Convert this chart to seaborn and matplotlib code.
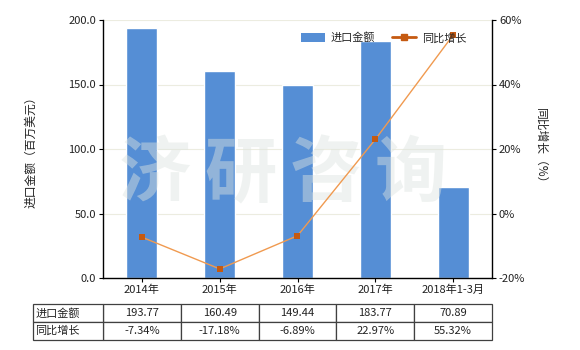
import numpy as np
import pandas as pd
import matplotlib
matplotlib.use("Agg")
import matplotlib.pyplot as plt
import seaborn as sns
from matplotlib.lines import Line2D
from matplotlib.patches import Patch

categories = ["2014年", "2015年", "2016年", "2017年", "2018年1-3月"]
import_values = [193.77, 160.49, 149.44, 183.77, 70.89]
growth_values = [-7.34, -17.18, -6.89, 22.97, 55.32]
row_labels = ["进口金额", "同比增长"]
left_ticks = [0, 50, 100, 150, 200]
right_ticks = [-20, 0, 20, 40, 60]
watermark = "济研咨询"

sns.set_theme(style="white")
plt.rcParams['font.family'] = ['Noto Sans CJK SC', 'DejaVu Sans']
plt.rcParams['axes.unicode_minus'] = False

BAR = "#558ED5"
LINE = "#F09A50"
MARK = "#C55A11"
TXT = "#222222"

fig = plt.figure(figsize=(5.8, 3.5), dpi=100)
ax = fig.add_axes([103/580, 1-278/350, 389/580, 258/350])

df = pd.DataFrame({"cat": categories, "val": import_values})
sns.barplot(data=df, x="cat", y="val", ax=ax, color=BAR, width=0.4,
            saturation=1, order=categories, zorder=2)
ax.set_ylim(0, 200)
ax.set_xlim(-0.5, len(categories) - 0.5)
ax.set_yticks(left_ticks)
ax.set_yticklabels([f"{v:.1f}" for v in left_ticks])
ax.set_xlabel("")
ax.set_ylabel("进口金额（百万美元）", fontsize=8.5, color=TXT, labelpad=22)
ax.grid(axis="y", color="#ECECE0", linewidth=0.8, zorder=0)
ax.set_axisbelow(True)
for s in ["top", "right"]:
    ax.spines[s].set_visible(False)
ax.spines["left"].set_color("black")
ax.spines["bottom"].set_color("black")
ax.spines["left"].set_linewidth(1)
ax.spines["bottom"].set_linewidth(1)
ax.tick_params(axis="both", which="both", length=3, width=0.8, color="black",
               labelsize=8, labelcolor=TXT, left=True, bottom=True, pad=2)

# watermark, characters spaced apart
for i, ch in enumerate(watermark):
    ax.text(0.134 + i * 0.219, 0.40, ch, transform=ax.transAxes, fontsize=52,
            fontweight="bold", color="#dde4e0", alpha=0.45, ha="center",
            va="center", zorder=3)

ax2 = ax.twinx()
sns.lineplot(x=np.arange(len(categories)), y=growth_values, ax=ax2,
             color=LINE, linewidth=1.0, zorder=4)
ax2.scatter(np.arange(len(categories)), growth_values, marker="s", s=22,
            color=MARK, zorder=5, linewidths=0)
ax2.set_ylim(-20, 60)
ax2.set_yticks(right_ticks)
ax2.set_yticklabels([f"{v}%" for v in right_ticks])
ax2.set_ylabel("同比增长（%）", fontsize=8.5, color=TXT, rotation=270,
               labelpad=16)
for s in ["top", "left", "bottom"]:
    ax2.spines[s].set_visible(False)
ax2.spines["right"].set_color("black")
ax2.spines["right"].set_linewidth(1)
ax2.tick_params(axis="y", length=3, width=0.8, color="black", labelsize=8,
                labelcolor=TXT, right=True, pad=2)

handles = [Patch(facecolor=BAR, edgecolor="none"),
           Line2D([0], [0], color=MARK, linewidth=2, marker="s",
                  markersize=4)]
ax2.legend(handles, ["进口金额", "同比增长"], ncol=2, frameon=False,
           loc="upper right", bbox_to_anchor=(0.96, 0.99), fontsize=8,
           handlelength=2.2, handleheight=0.9, columnspacing=1.5,
           handletextpad=0.5)

# data table below
tb = ax.table(cellText=[[f"{v:.2f}" for v in import_values],
                        [f"{v:.2f}%" for v in growth_values]],
              cellLoc="center",
              bbox=[0.0, -0.240, 1.0, 0.139])
for (r, c), cell in tb.get_celld().items():
    cell.set_edgecolor("#404040")
    cell.set_linewidth(0.9)
    cell.get_text().set_fontsize(8)
    cell.get_text().set_color(TXT)
lab = ax.table(cellText=[[row_labels[0]], [row_labels[1]]], cellLoc="left",
               bbox=[-70/389, -0.240, 70/389, 0.139])
for (r, c), cell in lab.get_celld().items():
    cell.set_edgecolor("#404040")
    cell.set_linewidth(0.9)
    cell.get_text().set_fontsize(8)
    cell.get_text().set_color(TXT)
    cell.PAD = 0.03
tb.auto_set_font_size(False)
lab.auto_set_font_size(False)

fig.savefig("out.png", dpi=100)
